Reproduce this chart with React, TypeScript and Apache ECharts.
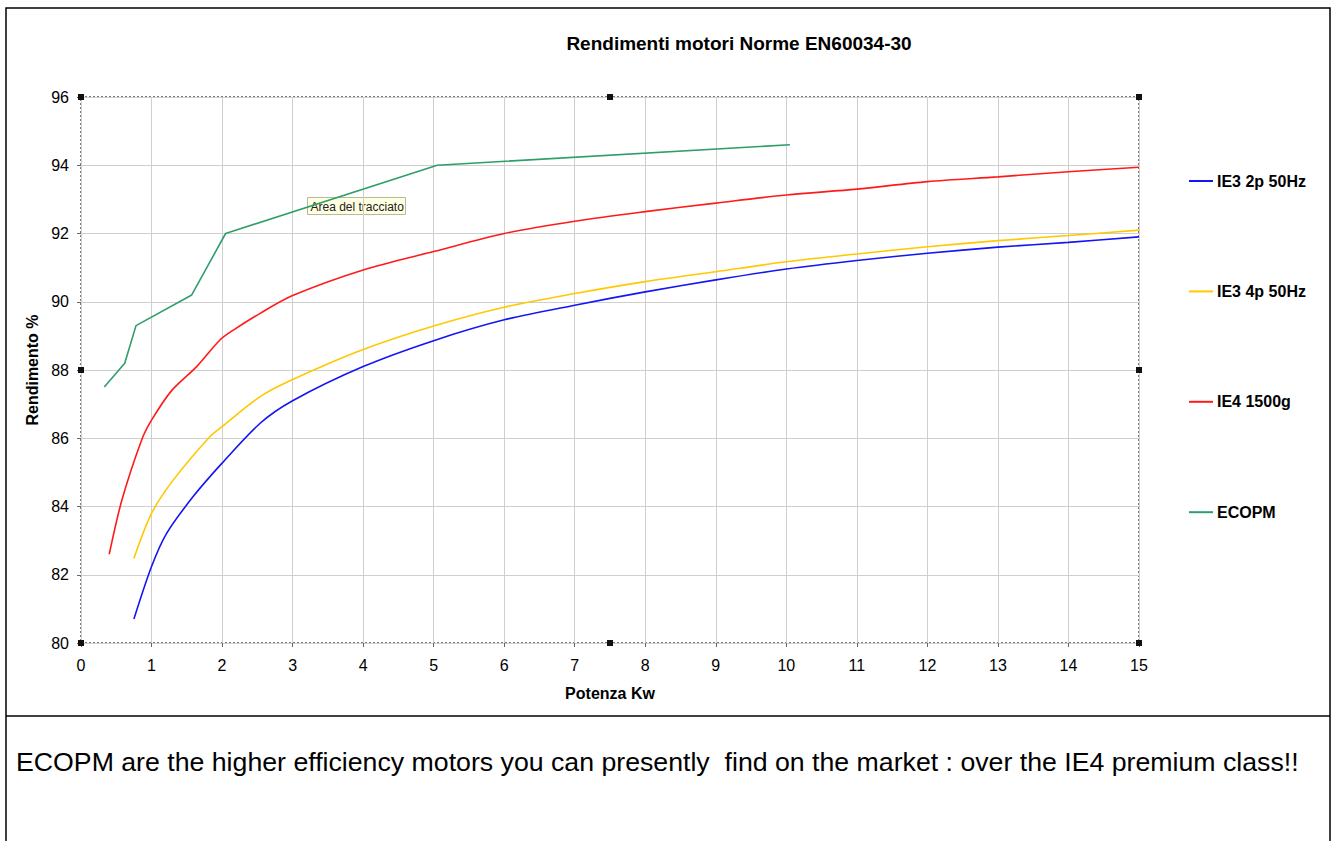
import React, { useEffect, useRef } from "react";
import * as echarts from "echarts";

const titleText = "Rendimenti motori Norme EN60034-30";
const yAxisName = "Rendimento %";
const xAxisName = "Potenza Kw";
const footerText =
  "ECOPM are the higher efficiency motors you can presently  find on the market : over the IE4 premium class!!";
const tooltipText = "Area del tracciato";

const seriesNames = ["IE3 2p 50Hz", "IE3 4p 50Hz", "IE4 1500g", "ECOPM"];
const seriesColors = ["#1414F5", "#FFC800", "#FF1A1A", "#2E9E6B"];

const ie3_2p: [number, number][] = [
  [0.75, 80.7], [1.0, 82.24], [1.21, 83.2], [1.59, 84.29], [2.0, 85.27],
  [2.54, 86.44], [3, 87.1], [4, 88.1], [5, 88.86], [6, 89.47], [7, 89.9],
  [8, 90.29], [9, 90.64], [10, 90.96], [11, 91.21], [12, 91.42], [13, 91.6],
  [14, 91.74], [15, 91.9],
];
const ie3_4p: [number, number][] = [
  [0.75, 82.48], [1.0, 83.8], [1.31, 84.78], [1.83, 86.05], [2.0, 86.34],
  [2.54, 87.22], [3, 87.72], [4, 88.6], [5, 89.29], [6, 89.84], [7, 90.24],
  [8, 90.59], [9, 90.88], [10, 91.17], [11, 91.4], [12, 91.61], [13, 91.79],
  [14, 91.94], [15, 92.1],
];
const ie4: [number, number][] = [
  [0.4, 82.6], [0.58, 84.19], [0.86, 85.95], [1.0, 86.53], [1.29, 87.41],
  [1.64, 88.1], [1.97, 88.88], [2.16, 89.17], [2.54, 89.66], [3, 90.18],
  [4, 90.93], [5, 91.47], [6, 92.0], [7, 92.36], [8, 92.64], [9, 92.89],
  [10, 93.13], [11, 93.3], [12, 93.52], [13, 93.66], [14, 93.81], [15, 93.94],
];
const ecopm: [number, number][] = [
  [0.33, 87.5], [0.62, 88.2], [0.78, 89.3], [1.57, 90.2], [2.05, 92.0],
  [5.05, 94.0], [10.05, 94.6],
];

const xMin = 0, xMax = 15, xStep = 1;
const yMin = 80, yMax = 96, yStep = 2;

const FONT = "'Liberation Sans', Arial, Helvetica, sans-serif";

export default function App() {
  const ref = useRef<HTMLDivElement>(null);
  useEffect(() => {
    if (!ref.current) return;
    const chart = echarts.init(ref.current, undefined, { renderer: "svg" });
    const gl = 81, gt = 97, gw = 1058, gh = 546;
    const handle = (x: number, y: number) => ({
      type: "rect",
      shape: { x: x - 3, y: y - 3, width: 6, height: 6 },
      style: { fill: "#111" },
      z: 100,
    });
    const datasets = [ie3_2p, ie3_4p, ie4, ecopm];
    chart.setOption({
      animation: false,
      backgroundColor: "#fff",
      title: {
        text: titleText,
        left: 734,
        top: 29,
        textAlign: "center",
        textStyle: { fontFamily: FONT, fontSize: 19, fontWeight: "bold", color: "#000" },
      },
      grid: {
        left: gl, top: gt, width: gw, height: gh,
        show: true, borderColor: "#7a7a7a", borderWidth: 2, borderType: "dotted",
        backgroundColor: "transparent",
      },
      legend: {
        orient: "vertical",
        left: 1184,
        top: 168,
        itemGap: 94.4,
        itemWidth: 24,
        itemHeight: 2,
        icon: "rect",
        data: seriesNames,
        textStyle: { fontFamily: FONT, fontSize: 16, fontWeight: "bold", color: "#000", padding: [0, 0, 0, -1] },
        selectedMode: false,
      },
      xAxis: {
        type: "value",
        min: xMin, max: xMax, interval: xStep,
        name: xAxisName,
        nameLocation: "middle",
        nameGap: 42,
        nameTextStyle: { fontFamily: FONT, fontSize: 16, fontWeight: "bold", color: "#000" },
        axisLine: { show: false },
        axisTick: { show: true, length: 4, lineStyle: { color: "#666" } },
        axisLabel: { fontFamily: FONT, fontSize: 16, color: "#000", margin: 14 },
        splitLine: { show: true, lineStyle: { color: "#cfcfcf", width: 1 } },
      },
      yAxis: {
        type: "value",
        min: yMin, max: yMax, interval: yStep,
        name: yAxisName,
        nameLocation: "middle",
        nameGap: 39,
        nameRotate: 90,
        nameTextStyle: { fontFamily: FONT, fontSize: 16, fontWeight: "bold", color: "#000" },
        axisLine: { show: false },
        axisTick: { show: true, length: 4, lineStyle: { color: "#666" } },
        axisLabel: { fontFamily: FONT, fontSize: 16, color: "#000", margin: 12 },
        splitLine: { show: true, lineStyle: { color: "#cfcfcf", width: 1 } },
      },
      series: datasets.map((d, i) => ({
        name: seriesNames[i],
        type: "line",
        data: d,
        symbol: "none",
        smooth: i === 3 ? false : 0.3,
        lineStyle: { color: seriesColors[i], width: 1.6 },
        itemStyle: { color: seriesColors[i] },
        z: 10 - i,
      })),
      graphic: [
        {
          type: "rect",
          shape: { x: 6, y: 8, width: 1324, height: 860 },
          style: { fill: "none", stroke: "#000", lineWidth: 1.5 },
          silent: true,
        },
        {
          type: "line",
          shape: { x1: 6, y1: 716, x2: 1330, y2: 716 },
          style: { stroke: "#000", lineWidth: 1.5 },
          silent: true,
        },
        handle(gl, gt), handle(gl + gw / 2, gt), handle(gl + gw, gt),
        handle(gl, gt + gh / 2), handle(gl + gw, gt + gh / 2),
        handle(gl, gt + gh), handle(gl + gw / 2, gt + gh), handle(gl + gw, gt + gh),
        {
          type: "group",
          left: 307,
          top: 197,
          z: 200,
          children: [
            {
              type: "rect",
              shape: { x: 0, y: 0, width: 98, height: 17 },
              style: { fill: "#FFFFE1", stroke: "#b8b8a0", lineWidth: 1 },
            },
            {
              type: "text",
              x: 3,
              y: 9,
              style: {
                text: tooltipText,
                font: "12px 'Liberation Sans', Arial, sans-serif",
                fill: "#222",
                verticalAlign: "middle",
              },
            },
          ],
        },
        {
          type: "text",
          left: 16,
          top: 748,
          style: {
            text: footerText,
            font: "26.7px 'Liberation Sans', Arial, sans-serif",
            fill: "#000",
          },
        },
      ],
    });
    return () => chart.dispose();
  }, []);
  return (
    <div
      ref={ref}
      style={{ position: "fixed", left: 0, top: 0, width: 1331, height: 841, background: "#fff" }}
    />
  );
}
